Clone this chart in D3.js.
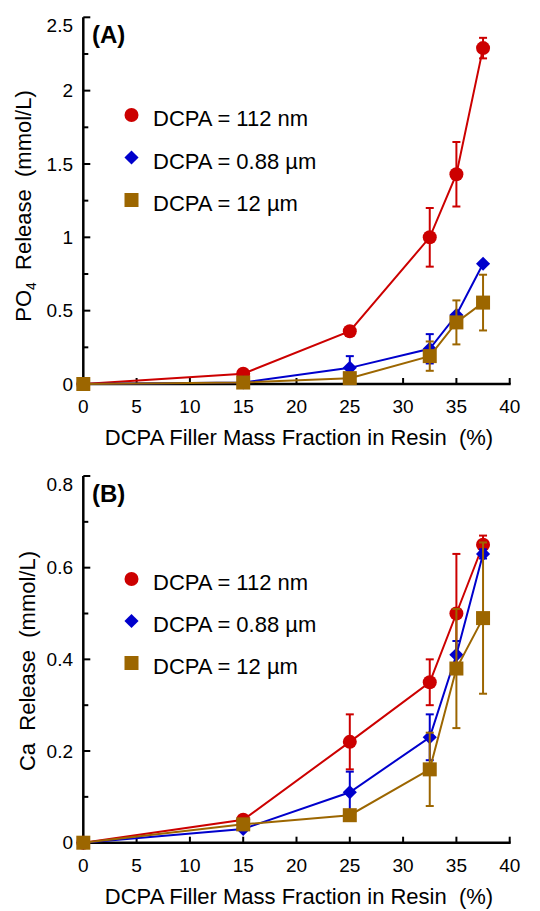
<!DOCTYPE html>
<html>
<head>
<meta charset="utf-8">
<script src="https://cdn.jsdelivr.net/npm/d3@7"></script>
<style>
	body{margin:0;background:#fff;}
	svg text{font-family:"Liberation Sans", Arial, Helvetica, sans-serif;fill:#000;}
</style>
</head>
<body>
<svg id="chart" width="540" height="911"></svg>
<script>
// mass fraction of DCPA filler (%)
const fractions = [0, 15, 25, 32.5, 35, 37.5];
const xTicks = [0, 5, 10, 15, 20, 25, 30, 35, 40];
const seriesNames = ["DCPA = 112 nm", "DCPA = 0.88 µm", "DCPA = 12 µm"];

// (A) PO4 release, mmol/L
const po4Nano = [0, 0.07, 0.36, 1.0, 1.43, 2.29];
const po4NanoErr = [0, 0, 0, 0.2, 0.22, 0.07];
const po4Sub = [0, 0.01, 0.11, 0.24, 0.47, 0.82];
const po4SubErr = [0, 0, 0.08, 0.1, 0, 0];
const po4Micro = [0, 0.01, 0.04, 0.19, 0.42, 0.555];
const po4MicroErr = [0, 0, 0, 0.1, 0.15, 0.19];
const po4Ticks = [0, 0.5, 1, 1.5, 2, 2.5];
const po4Minor = [0.25, 0.75, 1.25, 1.75, 2.25];

// (B) Ca release, mmol/L
const caNano = [0, 0.05, 0.22, 0.35, 0.50, 0.65];
const caNanoErr = [0, 0, 0.06, 0.05, 0.13, 0.02];
const caSub = [0, 0.03, 0.11, 0.23, 0.41, 0.63];
const caSubErr = [0, 0, 0.045, 0.05, 0.03, 0.01];
const caMicro = [0, 0.04, 0.06, 0.16, 0.38, 0.49];
const caMicroErr = [0, 0, 0, 0.08, 0.13, 0.165];
const caTicks = [0, 0.2, 0.4, 0.6, 0.8];
const caMinor = [0.1, 0.3, 0.5, 0.7];

const colors = ["#cc0000", "#0000cc", "#9c6600"];
const shapes = ["circle", "diamond", "square"];

const svg = d3.select("#chart");

function drawMarker(g, shape, color, x, y){
	if(shape === "circle"){
		g.append("circle").attr("cx", x).attr("cy", y).attr("r", 7).attr("fill", color);
	}
	else if(shape === "square"){
		g.append("rect").attr("x", x-7).attr("y", y-7).attr("width", 14).attr("height", 14).attr("fill", color);
	}
	else {
		g.append("rect").attr("x", -5).attr("y", -5).attr("width", 10).attr("height", 10)
			.attr("fill", color)
			.attr("transform", "translate(" + x + "," + y + ") rotate(45)");
	}
}

function drawPanel(opts){
	let g = svg.append("g"),
		x = d3.scaleLinear().domain([0, 40]).range([83.3, 509.7]),
		y = d3.scaleLinear().domain([0, opts.yMax]).range([opts.bottom, opts.top]);

	// axes
	g.append("line").attr("x1", x(0)).attr("x2", x(0)).attr("y1", y(opts.yMax)).attr("y2", y(0))
		.attr("stroke", "#000").attr("stroke-width", 2.5);
	g.append("line").attr("x1", x(0) - 1).attr("x2", x(40) + 1).attr("y1", y(0)).attr("y2", y(0))
		.attr("stroke", "#000").attr("stroke-width", 2.5);

	g.selectAll(".xtick").data(xTicks).enter().append("line")
		.attr("x1", d => x(d)).attr("x2", d => x(d))
		.attr("y1", y(0)).attr("y2", y(0) - 6)
		.attr("stroke", "#000").attr("stroke-width", 2);
	g.selectAll(".xlab").data(xTicks).enter().append("text")
		.attr("x", d => x(d)).attr("y", y(0) + 29)
		.attr("text-anchor", "middle").attr("font-size", 19)
		.text(d => d);

	g.selectAll(".ytick").data(opts.ticks).enter().append("line")
		.attr("x1", x(0)).attr("x2", x(0) + 7)
		.attr("y1", d => y(d)).attr("y2", d => y(d))
		.attr("stroke", "#000").attr("stroke-width", 2);
	g.selectAll(".yminor").data(opts.minor).enter().append("line")
		.attr("x1", x(0)).attr("x2", x(0) + 5)
		.attr("y1", d => y(d)).attr("y2", d => y(d))
		.attr("stroke", "#000").attr("stroke-width", 2);
	g.selectAll(".ylab").data(opts.ticks).enter().append("text")
		.attr("x", 73)
		.attr("y", d => y(d) + (d === opts.yMax ? 8 : 0))
		.attr("dy", "0.35em")
		.attr("text-anchor", "end").attr("font-size", 19)
		.text(d => d);

	// axis titles
	g.append("text")
		.attr("x", 299).attr("y", y(0) + 61)
		.attr("text-anchor", "middle").attr("font-size", 22)
		.attr("xml:space", "preserve")
		.text("DCPA Filler Mass Fraction in Resin  (%)");

	let yt = g.append("text")
		.attr("transform", "translate(" + opts.titleX + "," + opts.titleY + ") rotate(-90)")
		.attr("text-anchor", "middle").attr("font-size", 22)
		.attr("xml:space", "preserve");
	yt.append("tspan").text(opts.titleMain);
	if(opts.titleSub){
		yt.append("tspan").attr("font-size", 14).attr("dy", 5).text(opts.titleSub);
		yt.append("tspan").attr("dy", -5).text("  Release  (mmol/L)");
	}
	else {
		yt.append("tspan").text("  Release  (mmol/L)");
	}

	g.append("text").attr("x", 92).attr("y", opts.top + 26)
		.attr("font-size", 24).attr("font-weight", "bold")
		.text(opts.label);

	// series
	let line = d3.line().x(d => x(d[0])).y(d => y(d[1]));
	opts.series.forEach(function(s, i){
		let pts = fractions.map((f, j) => [f, s.values[j], s.err[j]]),
			sg = g.append("g");
		sg.append("path").datum(pts).attr("d", line)
			.attr("fill", "none").attr("stroke", colors[i]).attr("stroke-width", 2);
		pts.filter(p => p[2] > 0).forEach(function(p){
			let cx = x(p[0]), t = y(p[1] + p[2]), b = y(Math.max(0, p[1] - p[2]));
			sg.append("line").attr("x1", cx).attr("x2", cx).attr("y1", t).attr("y2", b)
				.attr("stroke", colors[i]).attr("stroke-width", 2);
			[t, b].forEach(function(yy){
				sg.append("line").attr("x1", cx - 4).attr("x2", cx + 4).attr("y1", yy).attr("y2", yy)
					.attr("stroke", colors[i]).attr("stroke-width", 2);
			});
		});
		pts.forEach(p => drawMarker(sg, shapes[i], colors[i], x(p[0]), y(p[1])));
	});

	// legend
	seriesNames.forEach(function(name, i){
		let ly = opts.legendY + i * opts.legendStep;
		drawMarker(g, shapes[i], colors[i], 131.5, ly);
		g.append("text").attr("x", 153).attr("y", ly + 11)
			.attr("font-size", 22).text(name);
	});
}

drawPanel({
	label: "(A)", yMax: 2.5, top: 17.3, bottom: 384,
	ticks: po4Ticks, minor: po4Minor,
	titleMain: "PO", titleSub: "4", titleX: 31, titleY: 206,
	legendY: 115, legendStep: 42.5,
	series: [
		{values: po4Nano, err: po4NanoErr},
		{values: po4Sub, err: po4SubErr},
		{values: po4Micro, err: po4MicroErr}
	]
});

drawPanel({
	label: "(B)", yMax: 0.8, top: 476, bottom: 842.7,
	ticks: caTicks, minor: caMinor,
	titleMain: "Ca", titleSub: null, titleX: 35, titleY: 661,
	legendY: 579, legendStep: 42,
	series: [
		{values: caNano, err: caNanoErr},
		{values: caSub, err: caSubErr},
		{values: caMicro, err: caMicroErr}
	]
});
</script>
</body>
</html>
